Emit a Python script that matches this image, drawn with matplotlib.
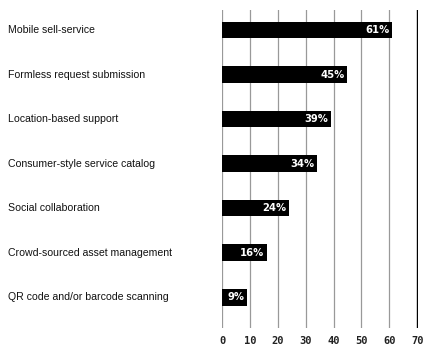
import numpy as np
import matplotlib.pyplot as plt

# survey results, top to bottom
features = ['Mobile sell-service', 'Formless request submission', 'Location-based support',
            'Consumer-style service catalog', 'Social collaboration',
            'Crowd-sourced asset management', 'QR code and/or barcode scanning']
shares = [61, 45, 39, 34, 24, 16, 9]
ticks = [0, 10, 20, 30, 40, 50, 60, 70]

fig = plt.figure(figsize=(4.24, 3.5), dpi=100)
ax = fig.add_axes([222 / 424, 22 / 350, 196 / 424, 318 / 350])

y = np.arange(len(features))
ax.barh(y, shares, height=0.37, color='black', zorder=3)

for yi, v in zip(y, shares):
    ax.text(v - 1.0, yi, f'{v}%', color='white', ha='right', va='center',
            fontsize=7.2, fontweight='bold', family='DejaVu Sans', zorder=4)

# vertical grid lines
for t in ticks:
    ax.axvline(t, color='black' if t == 70 else '#999999', lw=1.0 if t == 70 else 0.9, zorder=1)

ax.set_xlim(0, 70.3)
ax.set_ylim(len(features) - 1 + 0.69, -0.45)
ax.set_xticks(ticks)
ax.set_xticklabels([str(t) for t in ticks], fontsize=7.5, family='DejaVu Sans Mono',
                   fontweight='bold', color='#222222')
ax.tick_params(axis='x', length=0, pad=6)
ax.set_yticks([])
for s in ax.spines.values():
    s.set_visible(False)

# category labels at the left edge of the figure
for yi, name in zip(y, features):
    ax.text(-215 / 2.8, yi, name, ha='left', va='center', fontsize=7.6,
            family='Liberation Sans', color='#111111', clip_on=False)

fig.savefig('out.png', dpi=100)
